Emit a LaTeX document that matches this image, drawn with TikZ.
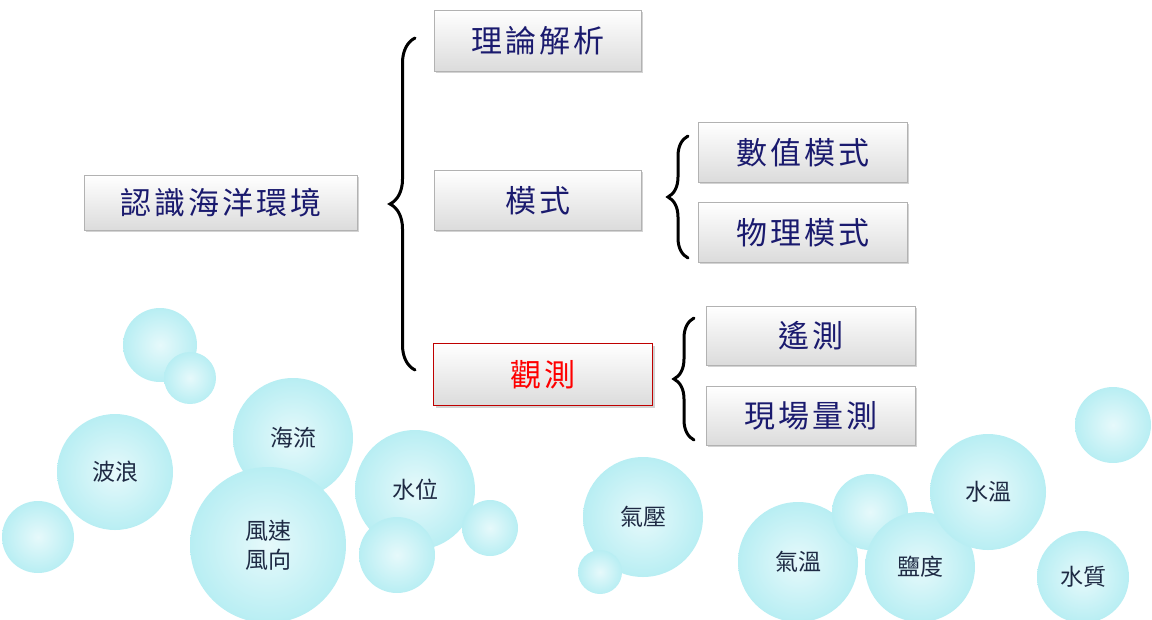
\documentclass[tikz,border=0pt]{standalone}
\usepackage{fontspec}
\newfontfamily\cjk{Noto Sans CJK TC}
\newfontfamily\cjkw[LetterSpace=10]{Noto Sans CJK TC}
\usetikzlibrary{shadows,decorations.pathreplacing}
\definecolor{navy}{HTML}{1A1A6E}
\definecolor{bub}{HTML}{B8EEF3}
\definecolor{btxt}{HTML}{1E2A44}
\begin{document}
\begin{tikzpicture}[x=1pt,y=-1pt,
  box/.style={draw=gray!60,line width=0.6pt,top color=white,bottom color=gray!28,
    drop shadow={shadow xshift=2pt,shadow yshift=-2pt,opacity=0.35},
    font=\cjkw\fontsize{31}{33}\selectfont,text=navy,anchor=north west,inner sep=0pt},
  bubble/.style={circle,inner color=bub!35,outer color=bub,draw=none,
    minimum size=#1,inner sep=0pt},
  btext/.style={font=\cjk\fontsize{23}{29}\selectfont,text=btxt,align=center},
  brc/.style={decorate,decoration={brace,amplitude=#1},line width=3pt,line cap=round}]
\useasboundingbox (0,0) rectangle (1152,619);
% bubbles
\foreach \x/\y/\r/\n in {160/345/37/b1,190/378/26/b2,38/537/36/b3,115/472/58/b4,293/438/60/b5,
  268/545/78/b6,415/490/60/b7,397/555/38/b8,490/528/28/b9,643/517/60/b10,600/572/22/b11,
  798/562/60/b12,870/512/38/b13,920/567/55/b14,988/492/58/b15,1113/425/38/b16,1083/577/46/b17}
  \node[bubble=2*\r] (\n) at (\x,\y) {};
\node[btext] (t1) at (b4) {波浪};
\node[btext] (t2) at (b5) {海流};
\node[btext] (t3) at (b6) {風速\\風向};
\node[btext] (t4) at (b7) {水位};
\node[btext] (t5) at (b10) {氣壓};
\node[btext] (t6) at (b12) {氣溫};
\node[btext] (t7) at (b14) {鹽度};
\node[btext] (t8) at (b15) {水溫};
\node[btext] (t9) at (b17) {水質};
% boxes
\node[box,minimum width=273,minimum height=55] (root) at (84,175) {認識海洋環境};
\node[box,minimum width=207,minimum height=61] (theo) at (434,10) {理論解析};
\node[box,minimum width=207,minimum height=60] (model) at (434,170) {模式};
\node[box,draw=red!75!black,line width=1pt,text=red,minimum width=219,minimum height=62] (obs) at (433,343) {觀測};
\node[box,minimum width=209,minimum height=60] (num) at (698,122) {數值模式};
\node[box,minimum width=209,minimum height=60] (phy) at (698,202) {物理模式};
\node[box,minimum width=209,minimum height=59] (rs) at (706,306) {遙測};
\node[box,minimum width=209,minimum height=59] (situ) at (706,386) {現場量測};
% braces
\coordinate (a1) at (415,370); \coordinate (a2) at (415,38);
\draw[brc=25] (a1) -- (a2);
\coordinate (c1) at (688,258); \coordinate (c2) at (688,136);
\draw[brc=20] (c1) -- (c2);
\coordinate (d1) at (694,440); \coordinate (d2) at (694,318);
\draw[brc=20] (d1) -- (d2);
\end{tikzpicture}
\end{document}
